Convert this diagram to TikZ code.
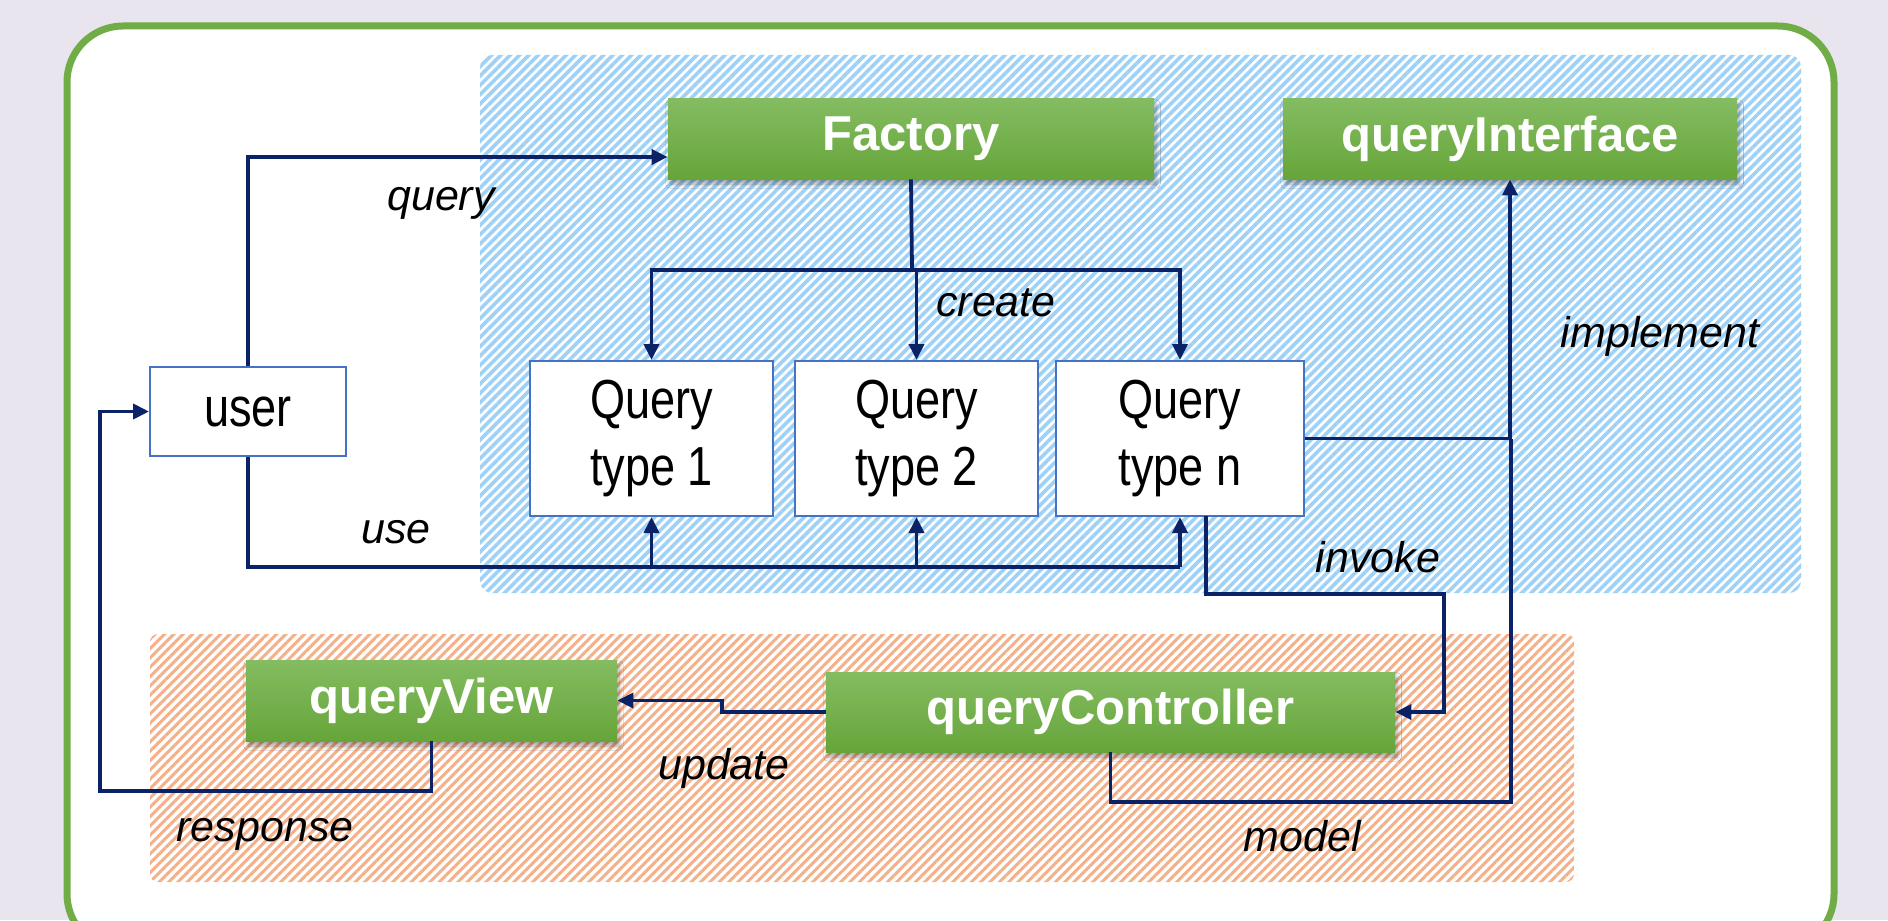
\documentclass[tikz,border=0pt]{standalone}
\usepackage{fontspec}
\setmainfont{Liberation Sans}
\newfontfamily\narrowfont[FakeStretch=0.82]{Liberation Sans}
\usetikzlibrary{arrows.meta,patterns.meta,shadows,shadows.blur}
\definecolor{bgc}{HTML}{E9E5EF}
\definecolor{framegreen}{HTML}{70AD47}
\definecolor{hatchblue}{HTML}{9ED1F7}
\definecolor{hatchorange}{HTML}{F4B088}
\definecolor{navy}{HTML}{0B2266}
\definecolor{boxblue}{HTML}{4472C4}
\definecolor{gtop}{HTML}{84BC61}
\definecolor{gbot}{HTML}{66A53A}
\begin{document}
\begin{tikzpicture}[x=0.5pt,y=-0.5pt,
  greenbox/.style={draw=none, top color=gtop, bottom color=gbot, text=white,
    font=\bfseries\fontsize{24.5}{29}\selectfont, inner sep=0pt,
    blur shadow={shadow xshift=1pt, shadow yshift=-2.5pt, shadow blur steps=6, shadow opacity=35}},
  whitebox/.style={draw=boxblue, line width=1pt, fill=white, inner sep=0pt, align=center,
    font=\narrowfont\fontsize{27.5}{33.5}\selectfont},
  lbl/.style={font=\itshape\fontsize{21.5}{26}\selectfont, inner sep=0pt},
  conn/.style={draw=navy, line width=1.9pt},
  arr/.style={conn, -{Triangle[length=8pt,width=7.5pt]}},
  bluehatch/.style={pattern={Lines[angle=45,distance=3.3pt,line width=1.8pt]}, pattern color=hatchblue},
  orangehatch/.style={pattern={Lines[angle=45,distance=3.3pt,line width=1.5pt]}, pattern color=hatchorange}
]
\useasboundingbox (0,0) rectangle (1888,920);
\fill[bgc] (0,0) rectangle (1888,920);
% outer frame
\draw[framegreen, line width=3.5pt, fill=white, rounded corners=28pt] (67,26) rectangle (1834,950);
% hatched regions
\fill[bluehatch, rounded corners=6pt] (480,55) rectangle (1801,593);
\fill[orangehatch, rounded corners=4pt] (150,634) rectangle (1574,882);

% nodes
\node[greenbox, minimum width=243pt, minimum height=40pt] (factory) at (911,139) {Factory};
\node[greenbox, minimum width=227pt, minimum height=40pt] (qi) at (1510,139) {queryInterface};
\node[whitebox, minimum width=98pt, minimum height=44.5pt] (user) at (248,411.5) {user};
\node[whitebox, minimum width=121.5pt, minimum height=77.5pt] (q1) at (651.5,438.5) {Query\\type 1};
\node[whitebox, minimum width=121.5pt, minimum height=77.5pt] (q2) at (916.5,438.5) {Query\\type 2};
\node[whitebox, minimum width=124pt, minimum height=77.5pt] (qn) at (1180,438.5) {Query\\type n};
\node[greenbox, minimum width=185.5pt, minimum height=40.5pt] (qv) at (431.5,700.5) {queryView};
\node[greenbox, minimum width=284.5pt, minimum height=40pt] (qc) at (1110.5,712) {queryController};

% coordinates
\coordinate (bar) at (912,270);
\coordinate (usey) at (248,567);

% query
\draw[arr] (user.north) |- (factory.west |- 0,157);
% create
\draw[conn] (factory.south) -- (bar);
\draw[arr] (bar) -| (q1.north);
\draw[arr] (bar) -| (qn.north);
\draw[arr] (bar -| q2.north) -- (q2.north);
% use
\draw[conn] (user.south) |- (qn.south |- usey);
\draw[arr] (q1.south |- usey) -- (q1.south);
\draw[arr] (q2.south |- usey) -- (q2.south);
\draw[arr] (qn.south |- usey) -- (qn.south);
% implement
\draw[arr] (qn.east) -| (qi.south);
% invoke
\draw[arr] (1206,516) |- (1444,594) |- (qc.east);
% model
\draw[conn] (qc.south) |- (1511,802) -- (1511,438.5);
% update
\draw[arr] (qc.west) -- (722,712) |- (qv.east);
% response
\draw[arr] (qv.south) |- (100,791) |- (user.west);

% labels
\node[lbl] at (441,203) {query};
\node[lbl] at (996,303) {create};
\node[lbl] at (1660,336) {implement};
\node[lbl] at (396,532) {use};
\node[lbl] at (1378,557) {invoke};
\node[lbl] at (724,768) {update};
\node[lbl] at (265,834) {response};
\node[lbl] at (1302,836) {model};
\end{tikzpicture}
\end{document}
